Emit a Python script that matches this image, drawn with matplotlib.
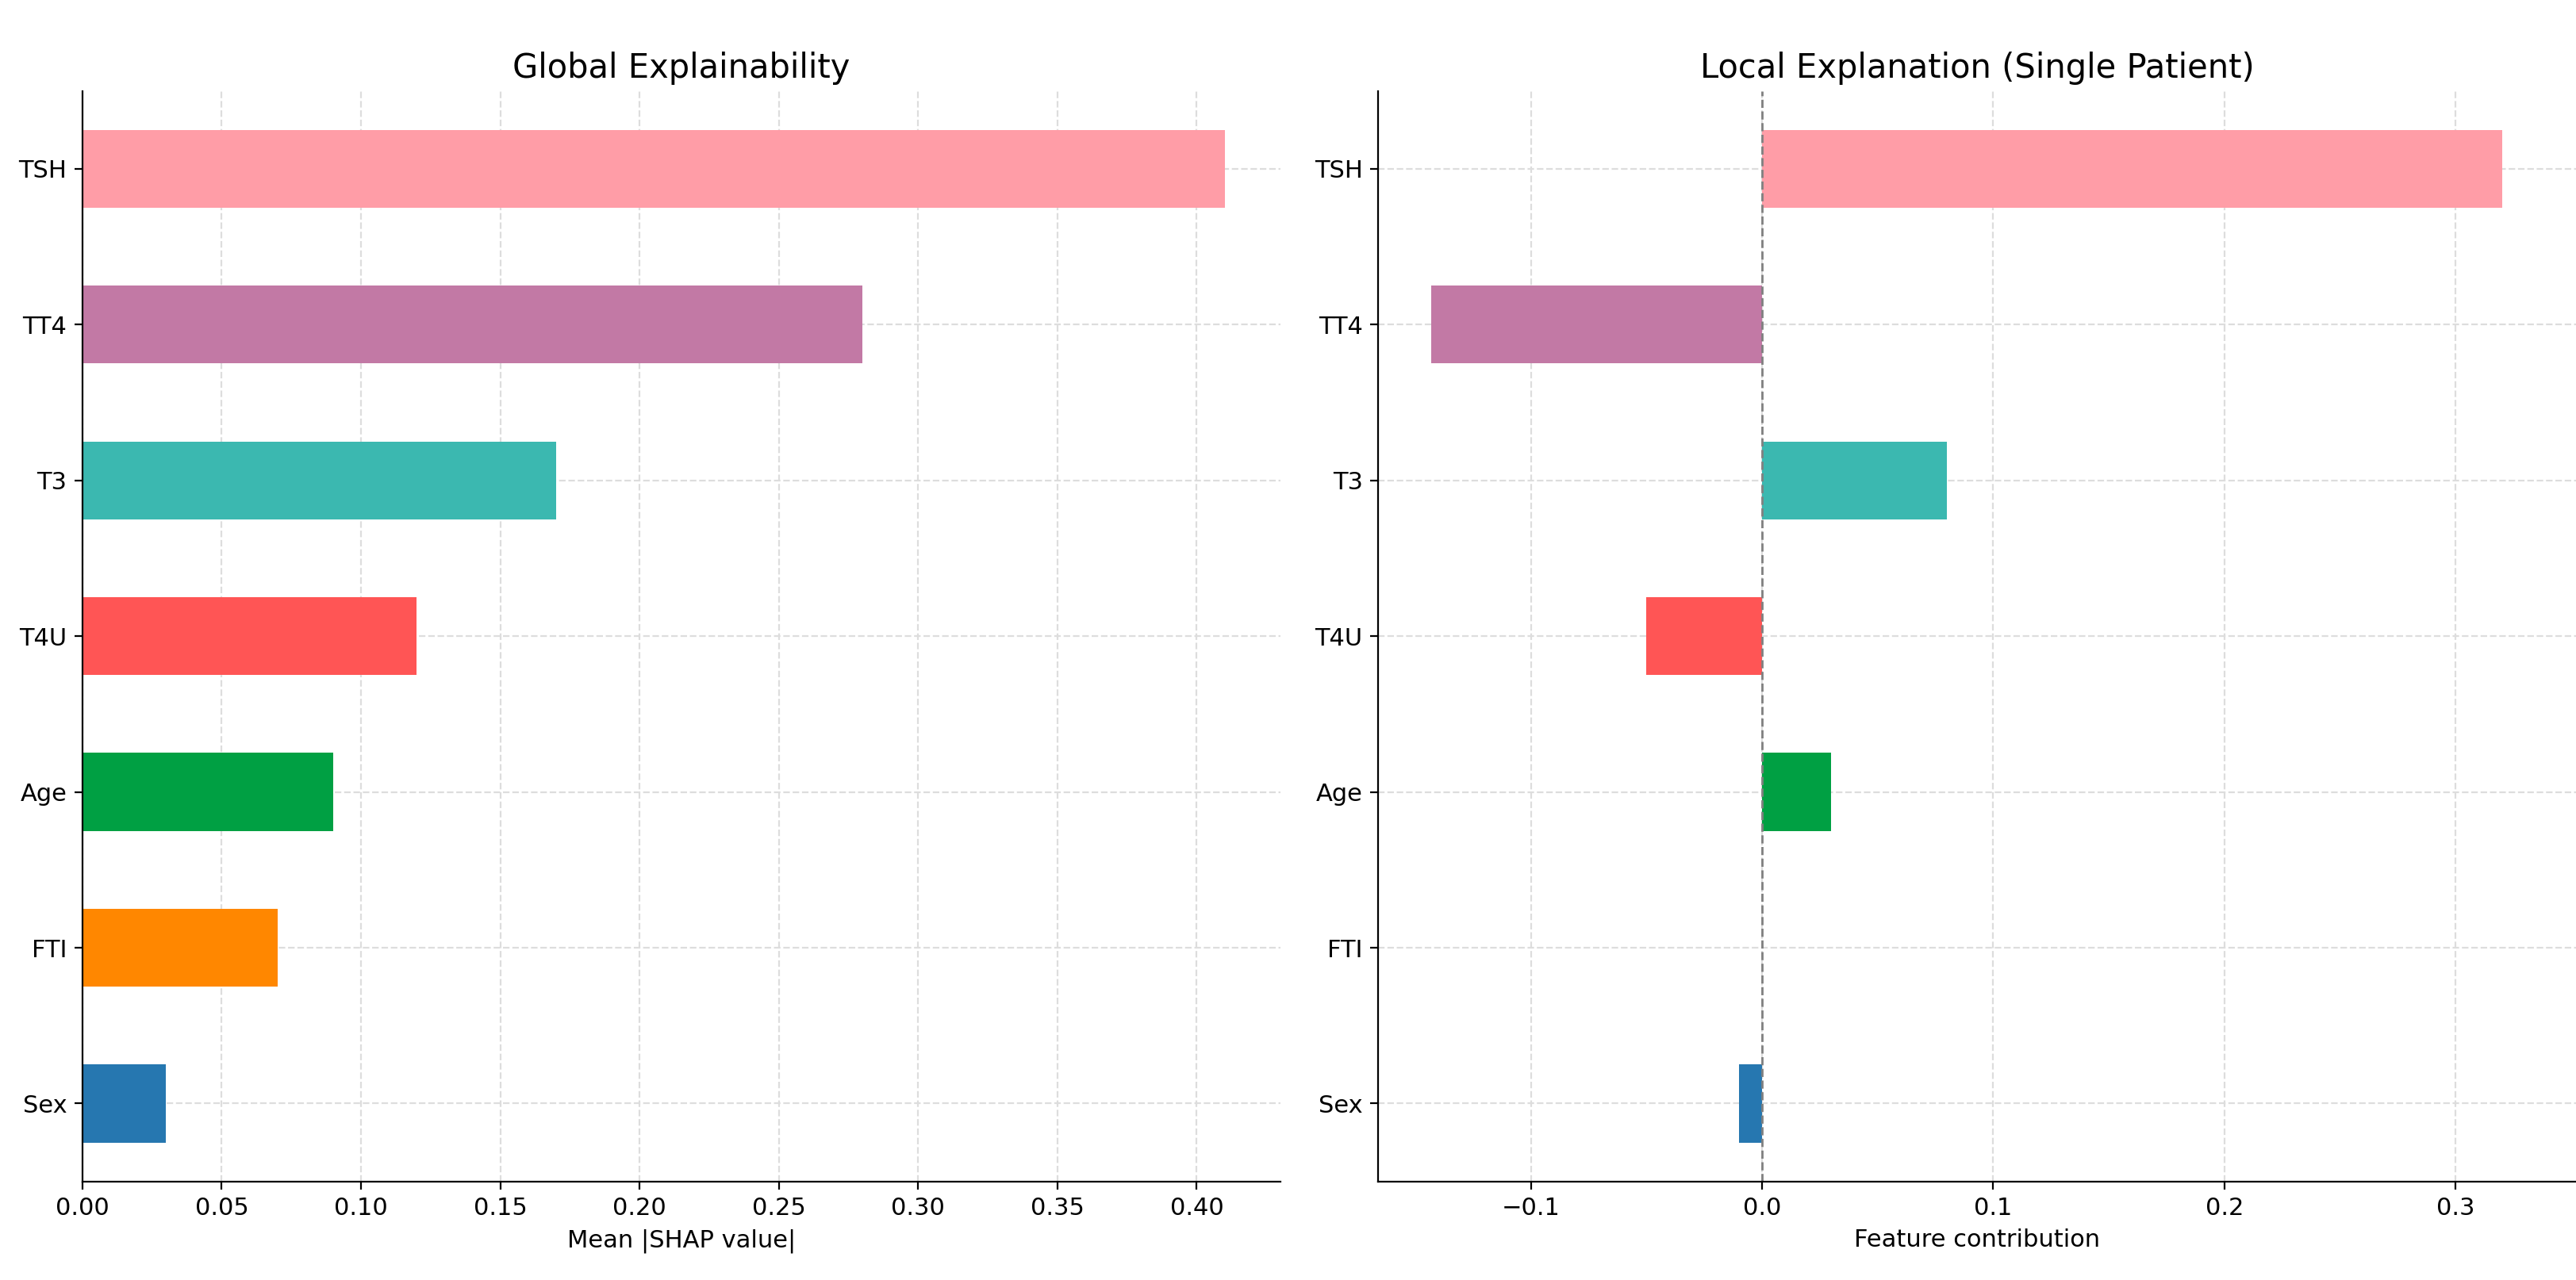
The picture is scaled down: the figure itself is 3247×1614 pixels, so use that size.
import numpy as np
import matplotlib.pyplot as plt

features = ['TSH', 'TT4', 'T3', 'T4U', 'Age', 'FTI', 'Sex']
global_shap = [0.41, 0.28, 0.17, 0.12, 0.09, 0.07, 0.03]
local_shap = [0.32, -0.143, 0.08, -0.05, 0.03, 0.0, -0.01]
colors = ['#FF9DA7', '#C279A5', '#3BB8B0', '#FF5555', '#00A043', '#FF8700', '#2677B0']

fig = plt.figure(figsize=(16.235, 8.07), dpi=200)
ax1 = fig.add_axes([0.032, 0.077, 0.465, 0.852])
ax2 = fig.add_axes([0.535, 0.077, 0.465, 0.852])

y = np.arange(len(features))[::-1]

for ax in (ax1, ax2):
    ax.grid(True, linestyle='--', color='#dddddd', linewidth=0.8)
    ax.set_axisbelow(True)
    ax.spines['top'].set_visible(False)
    ax.spines['right'].set_visible(False)
    ax.set_yticks(y)
    ax.set_yticklabels(features)
    ax.tick_params(labelsize=11)
    ax.set_ylim(-0.5, 6.5)

ax1.barh(y, global_shap, height=0.5, color=colors)
ax1.set_xlim(0, 0.43)
ax1.set_xticks(np.arange(0, 0.41, 0.05))
ax1.set_xticklabels([f'{v:.2f}' for v in np.arange(0, 0.41, 0.05)])
ax1.set_xlabel('Mean |SHAP value|', fontsize=11)
ax1.set_title('Global Explainability', fontsize=15)

ax2.barh(y, local_shap, height=0.5, color=colors)
ax2.axvline(0, color='gray', linestyle='--', linewidth=1)
ax2.set_xlim(-0.166, 0.352)
ax2.set_xticks([-0.1, 0.0, 0.1, 0.2, 0.3])
ax2.set_xticklabels(['\u22120.1', '0.0', '0.1', '0.2', '0.3'])
ax2.set_xlabel('Feature contribution', fontsize=11)
ax2.set_title('Local Explanation (Single Patient)', fontsize=15)

fig.savefig('out.png')
